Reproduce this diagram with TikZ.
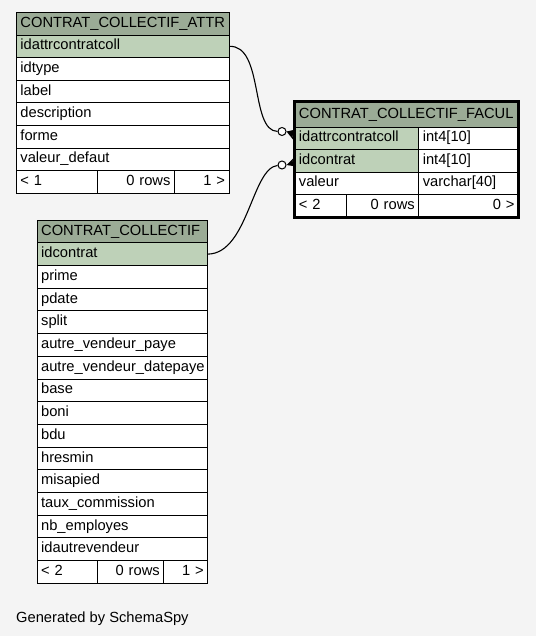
\documentclass[tikz,border=0pt]{standalone}
\usepackage{fontspec}
\setmainfont{Liberation Sans}
\definecolor{bgc}{HTML}{F4F4F4}
\definecolor{hdrc}{HTML}{9BAB96}
\definecolor{keyc}{HTML}{BED1B8}
\begin{document}
\begin{tikzpicture}[x=1pt,y=-1pt,
  cell/.style={draw=black, line width=0.9pt, anchor=north west, inner xsep=4pt, inner ysep=0pt,
    font=\fontsize{14.7}{16}\selectfont, text height=10.2pt, text depth=3pt, fill=white, align=left},
  rcell/.style={cell, align=right},
  hdr/.style={cell, fill=hdrc},
  key/.style={cell, fill=keyc},
  conn/.style={draw=black, line width=1.1pt},
  odot/.style={circle, draw=black, line width=1pt, fill=white, minimum size=8pt, inner sep=0pt},
  crow/.style={fill=black}]
\fill[bgc] (0,0) rectangle (536,636);
\useasboundingbox (0,0) rectangle (536,636);

% ---- CONTRAT_COLLECTIF_ATTR ----
\node[hdr, text width=204.5pt, minimum height=22.6pt] (t1h) at (16,12) {CONTRAT\_COLLECTIF\_ATTR};
\node[key, text width=204.5pt, minimum height=22.6pt] (t1k) at (16,34.6) {idattrcontratcoll};
\foreach \t [count=\i] in {idtype,label,description,forme,valeur\_defaut}
  \node[cell, text width=204.5pt, minimum height=22.6pt] (t1r\i) at (16,{34.6+22.6*\i}) {\t};
\node[cell, text width=72.7pt, minimum height=22.6pt] (t1f1) at (16,170.2) {< 1};
\node[rcell, text width=69.3pt, minimum height=22.6pt] (t1f2) at (96.7,170.2) {0 rows};
\node[rcell, text width=46.5pt, minimum height=22.6pt] (t1f3) at (174,170.2) {1 >};

% ---- CONTRAT_COLLECTIF_FACUL ----
\node[hdr, text width=215.5pt, minimum height=25.2pt] (t2h) at (294.5,101.5) {CONTRAT\_COLLECTIF\_FACUL};
\node[key, text width=115.8pt, minimum height=22.5pt] (t2k1) at (294.5,126.7) {idattrcontratcoll};
\node[cell, text width=91.7pt, minimum height=22.5pt] (t2k1t) at (418.3,126.7) {int4[10]};
\node[key, text width=115.8pt, minimum height=22.5pt] (t2k2) at (294.5,149.2) {idcontrat};
\node[cell, text width=91.7pt, minimum height=22.5pt] (t2k2t) at (418.3,149.2) {int4[10]};
\node[cell, text width=115.8pt, minimum height=22.5pt] (t2r1) at (294.5,171.7) {valeur};
\node[cell, text width=91.7pt, minimum height=22.5pt] (t2r1t) at (418.3,171.7) {varchar[40]};
\node[cell, text width=43.2pt, minimum height=22.3pt] (t2f1) at (294.5,194.2) {< 2};
\node[rcell, text width=64.6pt, minimum height=22.3pt] (t2f2) at (345.7,194.2) {0 rows};
\node[rcell, text width=91.7pt, minimum height=22.3pt] (t2f3) at (418.3,194.2) {0 >};
\draw[line width=3pt] (t2h.north west) rectangle (t2f3.south east);

% ---- CONTRAT_COLLECTIF ----
\node[hdr, text width=162.6pt, minimum height=22.5pt] (t3h) at (36.7,219.8) {CONTRAT\_COLLECTIF};
\node[key, text width=162.6pt, minimum height=22.7pt] (t3k) at (36.7,242.3) {idcontrat};
\foreach \t [count=\i] in {prime,pdate,split,autre\_vendeur\_paye,autre\_vendeur\_datepaye,base,boni,bdu,hresmin,misapied,taux\_commission,nb\_employes,idautrevendeur}
  \node[cell, text width=162.6pt, minimum height=22.7pt] (t3r\i) at (36.7,{242.3+22.7*\i}) {\t};
\node[cell, text width=52pt, minimum height=22.7pt] (t3f1) at (36.7,560.1) {< 2};
\node[rcell, text width=58.6pt, minimum height=22.7pt] (t3f2) at (96.7,560.1) {0 rows};
\node[rcell, text width=36pt, minimum height=22.7pt] (t3f3) at (163.3,560.1) {1 >};

% ---- connectors ----
\node[odot] (o1) at (282,131.5) {};
\node[odot] (o2) at (282,165) {};
\draw[conn] (t1k.east) .. controls (264,45) and (250,131) .. (o1);
\draw[conn] (t3k.east) .. controls (248,253) and (252,168) .. (o2);
\fill[crow] (o1.east) -- (296,129.5) -- (292.5,136) -- (295,142) -- cycle;
\fill[crow] (o2.east) -- (296,155.5) -- (292.5,161) -- (296,166.5) -- cycle;

\node[anchor=base west, inner sep=0pt, font=\fontsize{14.7}{16}\selectfont] (gen) at (16,622) {Generated by SchemaSpy};
\end{tikzpicture}
\end{document}
